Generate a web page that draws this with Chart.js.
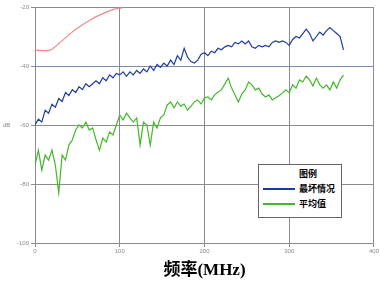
<!DOCTYPE html>
<html>
<head>
<meta charset="utf-8">
<script src="https://cdn.jsdelivr.net/npm/chart.js@4"></script>
<style>
  body { margin: 0; background: #fff; }
  #wrap { position: relative; width: 380px; height: 286px; }
  #legenda {
    position: absolute; left: 258px; top: 164px; width: 82px; height: 52px;
    border: 1px solid #666; background: #fff;
    font: bold 9px "Noto Sans CJK SC", sans-serif; color: #000;
  }
  #legenda .tit { position: absolute; left: 40px; top: 2px; }
  #legenda .fila { position: absolute; left: 4px; display: flex; align-items: center; }
  #legenda .linea { width: 32px; height: 2px; margin-right: 4px; }
</style>
</head>
<body>
<div id="wrap">
  <canvas id="grafico" width="380" height="286"></canvas>
  <div id="legenda">
    <div class="tit">图例</div>
    <div class="fila" style="top:17px"><span class="linea" id="l1"></span>最坏情况</div>
    <div class="fila" style="top:32px"><span class="linea" id="l2"></span>平均值</div>
  </div>
</div>
<script>
// frecuencia en MHz
const frecuencias = [0,4,8,12,16,20,24,28,32,36,40,44,48,52,56,60,64,68,72,76,80,84,88,92,96,100,
  104,108,112,116,120,124,128,132,136,140,144,148,152,156,160,164,168,172,176,180,184,188,192,196,200,
  204,208,212,216,220,224,228,232,236,240,244,248,252,256,260,264,268,272,276,280,284,288,292,296,300,
  304,308,312,316,320,324,328,332,336,340,344,348,352,356,360,364];

const peorCaso = [-60,-58,-59,-55,-56,-53,-54,-51,-52,-49,-50,-48,-49,-47,-48,-46,-47,-46,-45,-46,-44,-45,-43,-44,-42.5,-43,
  -42,-43.5,-42,-43,-41.5,-42.5,-41,-42,-40,-41.5,-39.5,-40.5,-39,-40,-38,-39.5,-36.5,-38,-34,-37,-38.5,-39,-38,-36,-35.5,
  -36.5,-35,-35.5,-34,-34.5,-33.5,-33,-33.5,-32,-32.5,-31.5,-32.5,-31.5,-33.5,-34,-33,-33.5,-33,-33.5,-32,-31.5,-32,-31.5,-32,-33,
  -31,-30,-30.5,-29,-27.5,-29,-31.5,-30,-28.5,-29.5,-28,-27,-28,-29,-30,-34.5];

const promedio = [-73.6,-68.5,-75.3,-70.2,-71.9,-68.5,-73.6,-83,-70.2,-71.9,-66.8,-65.1,-61.7,-60,-61,-59,-61.7,-61,-65,-68.5,-64.4,-65.8,-62.4,-63.4,-60,-56.6,
  -58.3,-56,-57.6,-59,-57.6,-66.8,-59,-60,-66.8,-59,-61,-57.6,-56.6,-53.2,-52.2,-54.2,-52.2,-53.6,-52.9,-55,-53.6,-52.2,-51.5,-52.9,-50.8,
  -50.5,-51.5,-49.8,-48.8,-48.1,-46.1,-44.1,-47.5,-49.8,-52.2,-49.5,-48.1,-45.4,-46.4,-48.1,-47.5,-49.5,-50.5,-49.8,-51.5,-50.8,-50.1,-49.1,-48.1,-49.1,
  -46.4,-47.5,-44.7,-45.4,-43.4,-44.7,-46.8,-44.1,-46.4,-47.5,-46.4,-48.1,-45.4,-47.5,-44.7,-43.1];

// linea limite (roja)
const limiteX = [0,18,30,47,65,82,94,103];
const limiteY = [-34.6,-34.6,-31.9,-27.8,-24.4,-22,-20.7,-20.3];

const ticksY = [-100,-80,-60,-40,-20];
const ticksX = [0,100,200,300,400];

const colorPeor = '#1e3c9e';
const colorProm = '#44b82a';
const colorLimite = '#f08a8a';

document.getElementById('l1').style.background = colorPeor;
document.getElementById('l2').style.background = colorProm;

const aPuntos = (xs, ys) => xs.map((x, i) => ({ x: x, y: ys[i] }));

const grafico = new Chart(document.getElementById('grafico'), {
    type: 'line',
    data: {
        datasets: [
            { label: '限值', data: aPuntos(limiteX, limiteY), borderColor: colorLimite, borderWidth: 1.2, tension: 0.3 },
            { label: '最坏情况', data: aPuntos(frecuencias, peorCaso), borderColor: colorPeor, borderWidth: 1.2 },
            { label: '平均值', data: aPuntos(frecuencias, promedio), borderColor: colorProm, borderWidth: 1.2 }
        ]
    },
    options: {
        responsive: false,
        animation: false,
        elements: { point: { radius: 0 } },
        layout: { padding: { top: 7, right: 5, left: 0, bottom: 0 } },
        plugins: { legend: { display: false }, tooltip: { enabled: false } },
        scales: {
            x: {
                type: 'linear', min: 0, max: 400,
                afterBuildTicks: (s) => { s.ticks = ticksX.map(v => ({ value: v })); },
                afterFit: (s) => { s.height = 43; },
                grid: { color: '#8c8c8c', tickLength: 4, drawTicks: true },
                border: { color: '#8c8c8c' },
                ticks: { font: { size: 6 }, color: '#888', padding: 1 },
                title: {
                    display: true, text: '频率(MHz)', color: '#000',
                    font: { family: '"Liberation Serif", "Noto Sans CJK SC", serif', size: 17, weight: 'bold' },
                    padding: { top: 0, bottom: 5 }
                }
            },
            y: {
                type: 'linear', min: -100, max: -20,
                afterBuildTicks: (s) => { s.ticks = ticksY.map(v => ({ value: v })); },
                afterFit: (s) => { s.width = 35; },
                grid: {
                    color: (ctx) => ctx.tick && ctx.tick.value === -40 ? '#7d8cab' : '#8c8c8c',
                    tickLength: 4
                },
                border: { color: '#8c8c8c' },
                ticks: {
                    font: { size: 6 }, color: '#888', padding: 2,
                    callback: (v) => v === -60 ? 'dB      ' + v : v
                }
            },
            x2: {
                type: 'linear', position: 'top', min: 0, max: 400, display: true,
                grid: { display: false }, ticks: { display: false },
                border: { color: '#8c8c8c' }, afterFit: (s) => { s.height = 0; }
            },
            y2: {
                type: 'linear', position: 'right', min: -100, max: -20, display: true,
                grid: { display: false }, ticks: { display: false },
                border: { color: '#8c8c8c' }, afterFit: (s) => { s.width = 0; }
            }
        }
    }
});
</script>
</body>
</html>
